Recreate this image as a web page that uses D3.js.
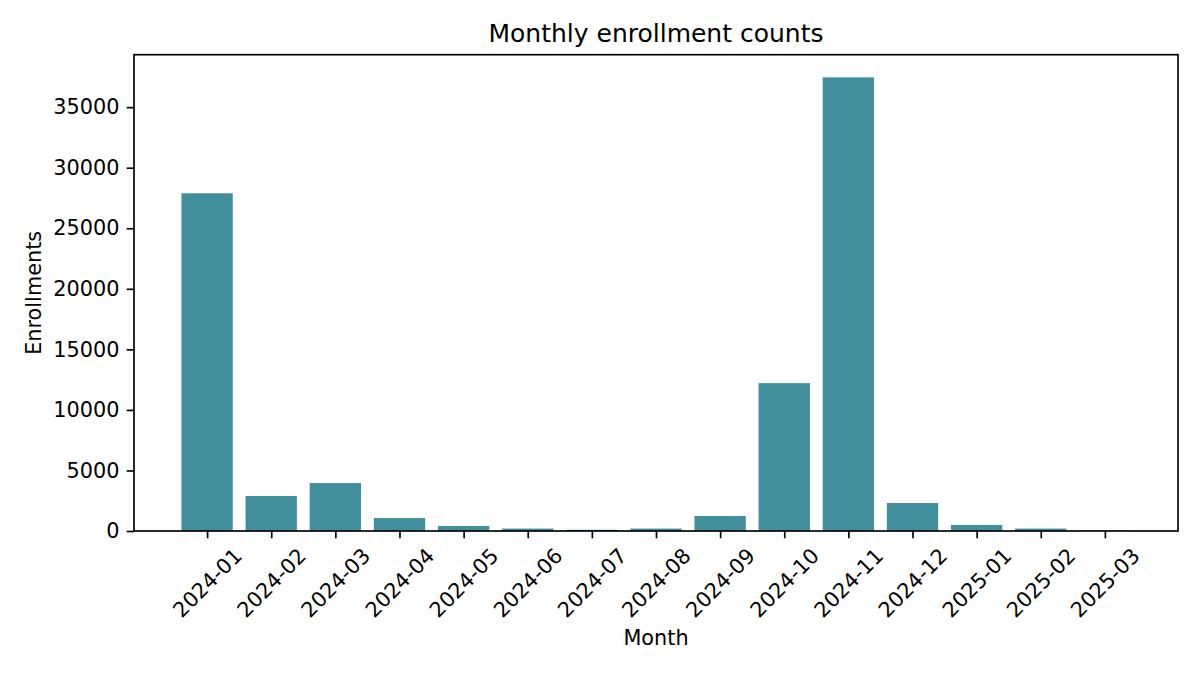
<!DOCTYPE html>
<html>
<head>
<meta charset="utf-8">
<script src="https://cdn.jsdelivr.net/npm/d3@7"></script>
<style>
  body { margin: 0; background: #fff; }
  text { font-family: "DejaVu Sans", sans-serif; fill: #000; }
</style>
</head>
<body>
<svg width="1200" height="675"></svg>
<script>
// monthly enrollments
var months = ["2024-01", "2024-02", "2024-03", "2024-04", "2024-05", "2024-06", "2024-07", "2024-08",
              "2024-09", "2024-10", "2024-11", "2024-12", "2025-01", "2025-02", "2025-03"];
var enrollments = [27890, 2890, 3960, 1070, 410, 200, 100, 200,
                   1240, 12210, 37460, 2310, 500, 200, 30];
var yTicks = [0, 5000, 10000, 15000, 20000, 25000, 30000, 35000];

var svg = d3.select("svg"),
    margin = {top: 54.7, right: 22, bottom: 144, left: 134},
    width = +svg.attr("width") - margin.left - margin.right,
    height = +svg.attr("height") - margin.top - margin.bottom,
    g = svg.append("g").attr("transform", "translate(" + margin.left + "," + margin.top + ")");

var barW = 0.8;
// matplotlib style: 5% margin around the bar extent
var span = (months.length - 1) + barW;
var pad = span * 0.05;
var x = d3.scaleLinear()
    .domain([-barW / 2 - pad, months.length - 1 + barW / 2 + pad])
    .range([0, width]);

var y = d3.scaleLinear()
    .domain([0, d3.max(enrollments) * 1.05])
    .range([height, 0]);

var data = months.map(function(m, i) { return {month: m, i: i, value: enrollments[i]}; });

g.selectAll(".bar")
    .data(data)
  .enter().append("rect")
    .attr("class", "bar")
    .attr("x", function(d) { return x(d.i - barW / 2); })
    .attr("width", function(d) { return x(barW) - x(0); })
    .attr("y", function(d) { return y(d.value); })
    .attr("height", function(d) { return height - y(d.value); })
    .attr("fill", "#418e9d");

var tickLen = 7.3, tickPad = 7.3, lw = 1.67;

// y axis
var yAxis = g.append("g")
    .call(d3.axisLeft(y).tickValues(yTicks).tickFormat(d3.format("d"))
      .tickSize(tickLen).tickPadding(tickPad));
yAxis.select(".domain").remove();
yAxis.selectAll(".tick line").attr("stroke", "#000").attr("stroke-width", lw);
yAxis.selectAll(".tick text")
    .style("font-family", "DejaVu Sans")
    .style("font-size", "20.8px")
    .attr("fill", "#000");

// x axis
var xAxis = g.append("g")
    .attr("transform", "translate(0," + height + ")")
    .call(d3.axisBottom(x)
      .tickValues(d3.range(months.length))
      .tickFormat(function(i) { return months[i]; })
      .tickSize(tickLen));
xAxis.select(".domain").remove();
xAxis.selectAll(".tick line").attr("stroke", "#000").attr("stroke-width", lw);
xAxis.selectAll(".tick text")
    .style("font-family", "DejaVu Sans")
    .style("font-size", "20.8px")
    .attr("fill", "#000")
    .attr("text-anchor", "middle")
    .attr("dominant-baseline", "central")
    .attr("y", 0)
    .attr("dy", null)
    .attr("transform", "translate(0,52) rotate(-45)");

// frame
g.append("rect")
    .attr("width", width)
    .attr("height", height)
    .attr("fill", "none")
    .attr("stroke", "#000")
    .attr("stroke-width", lw);

// title + axis labels
svg.append("text")
    .attr("x", margin.left + width / 2)
    .attr("y", 41.7)
    .attr("text-anchor", "middle")
    .style("font-size", "25px")
    .text("Monthly enrollment counts");

svg.append("text")
    .attr("x", margin.left + width / 2)
    .attr("y", 645)
    .attr("text-anchor", "middle")
    .style("font-size", "20.8px")
    .text("Month");

svg.append("text")
    .attr("transform", "translate(41," + (margin.top + height / 2) + ") rotate(-90)")
    .attr("text-anchor", "middle")
    .style("font-size", "20.8px")
    .text("Enrollments");
</script>
</body>
</html>
